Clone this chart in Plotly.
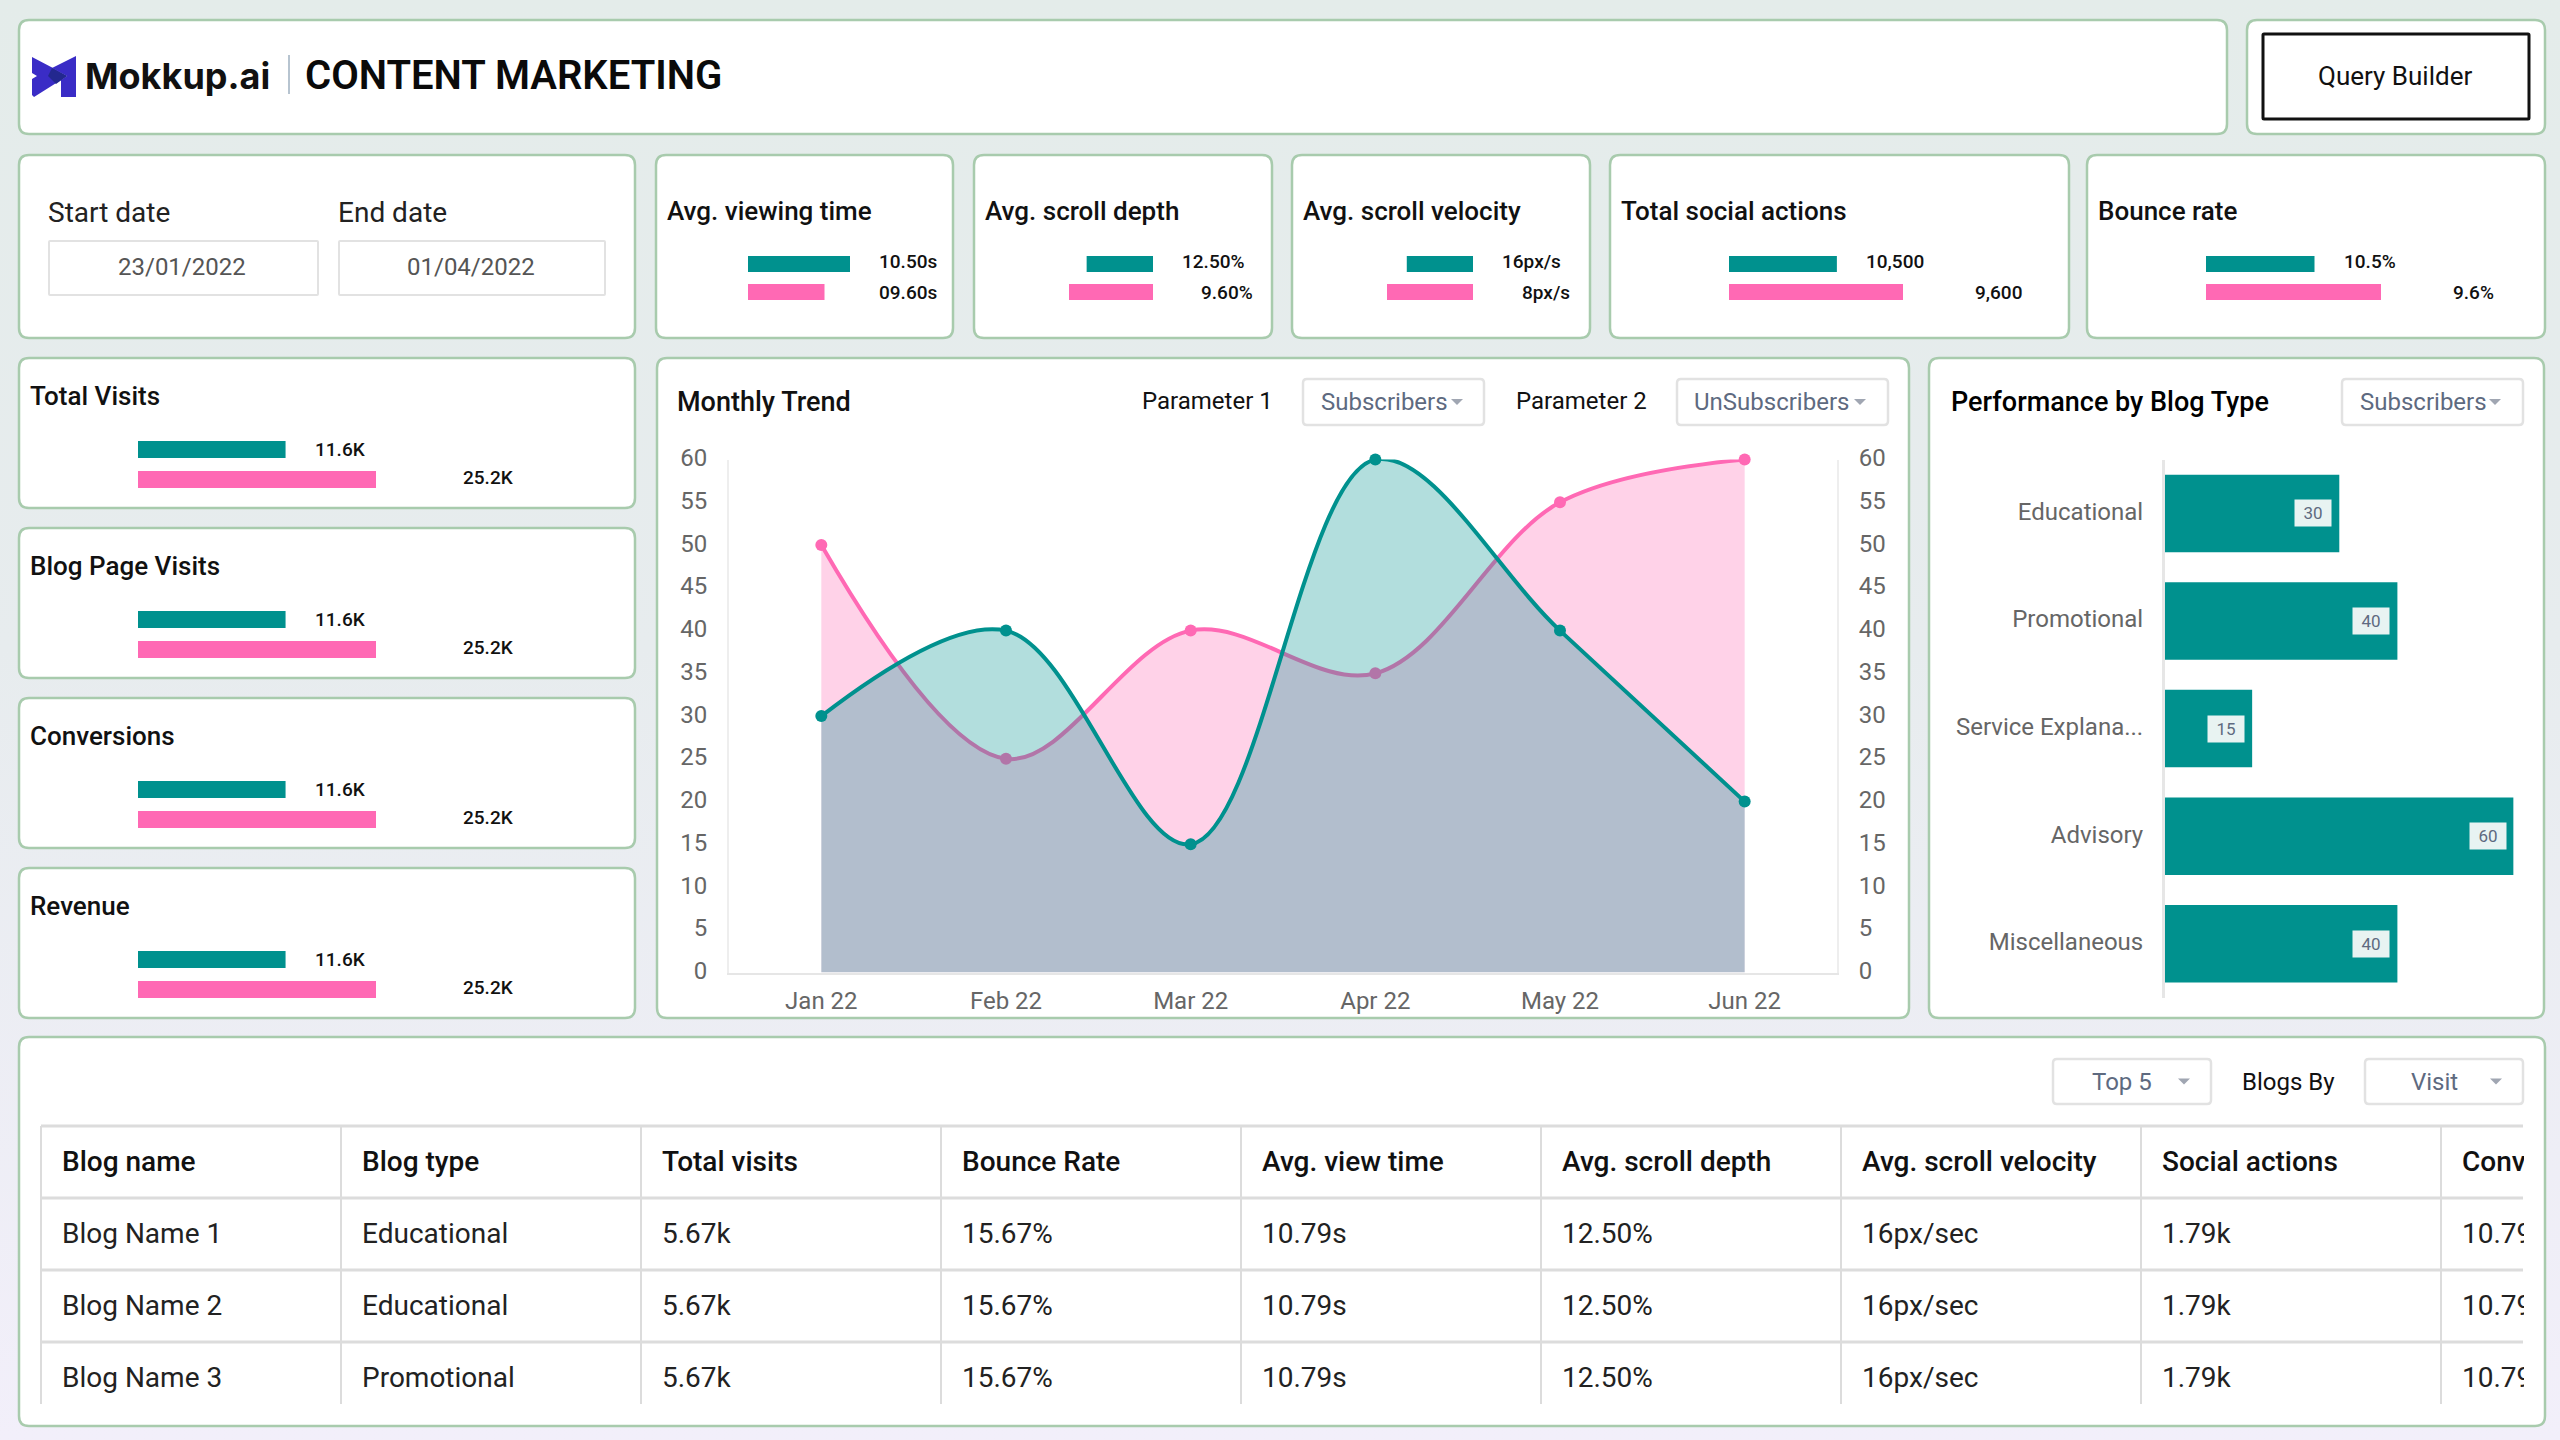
import plotly.graph_objects as go

W, H = 2560, 1440
TEAL = "#00918e"
PINK = "#ff69b4"
BORDER = "#a8cbad"
GREY_LINE = "#dcdcdc"
DROP_TEXT = "#5e6a80"
FONT = "Roboto"

# monthly trend
months = ["Jan 22", "Feb 22", "Mar 22", "Apr 22", "May 22", "Jun 22"]
subscribers = [50, 25, 40, 35, 55, 60]
unsubscribers = [30, 40, 15, 60, 40, 20]

# performance by blog type
blog_categories = ["Educational", "Promotional", "Service Explana...", "Advisory", "Miscellaneous"]
blog_values = [30, 40, 15, 60, 40]

# top KPI cards, bar lengths (longest bar = 100)
kpi_titles = ["Avg. viewing time", "Avg. scroll depth", "Avg. scroll velocity", "Total social actions", "Bounce rate"]
kpi_teal_labels = ["10.50s", "12.50%", "16px/s", "10,500", "10.5%"]
kpi_pink_labels = ["09.60s", "9.60%", "8px/s", "9,600", "9.6%"]
kpi_teal_bars = [100, 79, 77, 62, 62]
kpi_pink_bars = [75, 100, 100, 100, 100]

# left column cards
side_titles = ["Total Visits", "Blog Page Visits", "Conversions", "Revenue"]
side_teal_labels = ["11.6K", "11.6K", "11.6K", "11.6K"]
side_pink_labels = ["25.2K", "25.2K", "25.2K", "25.2K"]
side_teal_bars = [62, 62, 62, 62]
side_pink_bars = [100, 100, 100, 100]

# bottom table
table_headers = ["Blog name", "Blog type", "Total visits", "Bounce Rate", "Avg. view time",
                 "Avg. scroll depth", "Avg. scroll velocity", "Social actions", "Conversions"]
blog_names = ["Blog Name 1", "Blog Name 2", "Blog Name 3"]
blog_types = ["Educational", "Educational", "Promotional"]
total_visits = ["5.67k", "5.67k", "5.67k"]
bounce_rates = ["15.67%", "15.67%", "15.67%"]
view_times = ["10.79s", "10.79s", "10.79s"]
scroll_depths = ["12.50%", "12.50%", "12.50%"]
scroll_velocities = ["16px/sec", "16px/sec", "16px/sec"]
social_actions = ["1.79k", "1.79k", "1.79k"]
conversions = ["10.79k", "10.79k", "10.79k"]


def px(x):
    return x / W


def py(y):
    return 1 - y / H


shapes = []
annotations = []


def box(x0, y0, x1, y1, line=BORDER, width=2.5, r=10, fill="white"):
    # rounded rectangle, paper coordinates
    X0, X1, Y0, Y1 = px(x0), px(x1), py(y0), py(y1)
    rx, ry = r / W, r / H
    path = (f"M {X0 + rx} {Y0} L {X1 - rx} {Y0} Q {X1} {Y0} {X1} {Y0 - ry} "
            f"L {X1} {Y1 + ry} Q {X1} {Y1} {X1 - rx} {Y1} "
            f"L {X0 + rx} {Y1} Q {X0} {Y1} {X0} {Y1 + ry} "
            f"L {X0} {Y0 - ry} Q {X0} {Y0} {X0 + rx} {Y0} Z")
    shapes.append(dict(type="path", xref="paper", yref="paper", path=path, fillcolor=fill,
                       line=dict(color=line, width=width), layer="below"))


def poly(points, color):
    d = "M " + " L ".join(f"{px(x)} {py(y)}" for x, y in points) + " Z"
    shapes.append(dict(type="path", xref="paper", yref="paper", path=d, fillcolor=color,
                       line=dict(width=0), layer="below"))


def line(x0, y0, x1, y1, color=GREY_LINE, width=2):
    shapes.append(dict(type="line", xref="paper", yref="paper", x0=px(x0), x1=px(x1), y0=py(y0), y1=py(y1),
                       line=dict(color=color, width=width), layer="below"))


def label(x, y, text, size=25, color="#111111", weight=400, anchor="left", family=FONT, **kw):
    # small nudge: annotation boxes carry a little padding
    annotations.append(dict(xref="paper", yref="paper", x=px(x - 1.5), y=py(y - 0.7), text=text, showarrow=False,
                            xanchor=anchor, yanchor="middle", font=dict(family=family, size=size, color=color, weight=weight), **kw))


def dropdown(x0, y0, x1, y1, text, text_x, arrow_x):
    box(x0, y0, x1, y1, line="#e2e2e2", width=2.5, r=4)
    cy = (y0 + y1) / 2
    label(text_x, cy + 1, text, size=24, color=DROP_TEXT)
    poly([(arrow_x - 6, cy - 3), (arrow_x + 6, cy - 3), (arrow_x, cy + 3)], "#a0a6b2")


fig = go.Figure()
axis_no = {"n": 3}


def mini_bars(x0, x1, y_mid, half, teal, pink, flip=False):
    # two bars on their own hidden axes
    axis_no["n"] += 1
    n = axis_no["n"]
    fig.add_bar(x=[teal, pink], y=["a", "b"], orientation="h", marker=dict(color=[TEAL, PINK], line=dict(width=0)),
                xaxis=f"x{n}", yaxis=f"y{n}", showlegend=False, hoverinfo="skip")
    fig.layout[f"xaxis{n}"] = dict(domain=[px(x0), px(x1)], range=[100, 0] if flip else [0, 100], visible=False,
                                   anchor=f"y{n}", fixedrange=True)
    fig.layout[f"yaxis{n}"] = dict(domain=[py(y_mid + half), py(y_mid - half)], autorange="reversed", visible=False,
                                   anchor=f"x{n}", type="category", fixedrange=True)


# header row
box(19, 20, 2227, 134)
poly([(32, 57), (53, 68), (67, 76), (61, 80), (34, 97), (32, 95), (32, 79), (37, 76), (32, 73)], "#3a2cc6")
poly([(76, 56), (76, 97), (61, 97), (61, 80), (67, 76), (52, 68)], "#3a2cc6")
poly([(52, 68), (67, 76), (56, 84), (48, 76)], "#23288f")
label(84, 77, "Mokkup.ai", size=36, color="#111111", weight=700, family="Inter")
line(289, 55, 289, 94, color="#9fb0c0", width=1.5)
label(304, 76, "CONTENT MARKETING", size=40, color="#0a0a0a", weight=600)
box(2247, 20, 2545, 134)
box(2263, 34, 2529, 119, line="#111111", width=3, r=1)
label(2396, 77, "Query Builder", size=26, anchor="center")

# date card
box(19, 155, 635, 338)
label(47, 213, "Start date", size=28, color="#222222")
label(337, 213, "End date", size=28, color="#222222")
box(49, 241, 318, 295, line="#e2e2e2", width=2, r=1)
box(339, 241, 605, 295, line="#e2e2e2", width=2, r=1)
label(183, 268, "23/01/2022", size=24, color="#555555", anchor="center")
label(472, 268, "01/04/2022", size=24, color="#555555", anchor="center")

# KPI cards: card x0, x1, bar start, bar end, teal label x, pink label x
kpi_boxes = [
    (656, 953, 748, 850, 878, 878, False),
    (974, 1272, 1069, 1153, 1181, 1200, True),
    (1292, 1590, 1387, 1473, 1501, 1521, True),
    (1610, 2069, 1729, 1903, 1865, 1974, False),
    (2087, 2545, 2206, 2381, 2343, 2452, False),
]
for i, (cx0, cx1, bx0, bx1, lx_a, lx_b, flip) in enumerate(kpi_boxes):
    box(cx0, 155, cx1, 338)
    label(cx0 + 10, 212, kpi_titles[i], size=26, weight=500)
    mini_bars(bx0, bx1, 278, 28, kpi_teal_bars[i], kpi_pink_bars[i], flip)
    label(lx_a, 262, kpi_teal_labels[i], size=19, weight=500)
    label(lx_b, 293, kpi_pink_labels[i], size=19, weight=500)

# left column cards
for i, top in enumerate([358, 528, 698, 868]):
    box(19, top, 635, top + 150)
    label(29, top + 39, side_titles[i], size=26, weight=500)
    mini_bars(138, 376, top + 106.5, 30, side_teal_bars[i], side_pink_bars[i])
    label(314, top + 92, side_teal_labels[i], size=19, weight=500)
    label(462, top + 120, side_pink_labels[i], size=19, weight=500)

# monthly trend card
box(657, 358, 1909, 1018)
label(676, 403, "Monthly Trend", size=27, weight=500)
label(1141, 402, "Parameter 1", size=24)
dropdown(1303, 379, 1484, 425, "Subscribers", 1320, 1457)
label(1515, 402, "Parameter 2", size=24)
dropdown(1677, 379, 1888, 425, "UnSubscribers", 1693, 1860)

fig.add_scatter(x=months, y=subscribers, mode="lines+markers", line=dict(color=PINK, width=4, shape="spline", smoothing=1),
                marker=dict(color=PINK, size=12), fill="tozeroy", fillcolor="rgba(255,105,180,0.3)",
                cliponaxis=False, showlegend=False, name="Subscribers", xaxis="x", yaxis="y")
fig.add_scatter(x=months, y=unsubscribers, mode="lines+markers", line=dict(color=TEAL, width=4, shape="spline", smoothing=1),
                marker=dict(color=TEAL, size=12), fill="tozeroy", fillcolor="rgba(0,145,142,0.3)",
                cliponaxis=False, showlegend=False, name="UnSubscribers", xaxis="x", yaxis="y2")

trend_ticks = dict(tickfont=dict(family=FONT, size=24, color="#666666"), ticklabelstandoff=15, ticklabelshift=-2)
fig.update_layout(
    xaxis=dict(domain=[px(729), px(1837)], type="category", range=[-0.5, 5.5], showgrid=False, zeroline=False, showline=True,
               linecolor="#e6e6e6", linewidth=2, anchor="y", ticks="", ticklabelstandoff=6,
               tickfont=dict(family=FONT, size=24, color="#666666")),
    yaxis=dict(domain=[py(972.6), py(459.6)], range=[0, 60], dtick=5, showgrid=False, zeroline=False, showline=True,
               linecolor="#eeeeee", linewidth=2, anchor="x", ticks="", **trend_ticks),
    yaxis2=dict(range=[0, 60], dtick=5, showgrid=False, zeroline=False, showline=True, linecolor="#eeeeee", linewidth=2,
                overlaying="y", side="right", anchor="x", ticks="", **trend_ticks),
)

# performance by blog type card
box(1929, 358, 2544, 1018)
label(1950, 403, "Performance by Blog Type", size=27, weight=500, color="#000000")
dropdown(2342, 379, 2523, 425, "Subscribers", 2359, 2495)

fig.add_bar(x=blog_values, y=blog_categories, orientation="h", marker=dict(color=TEAL, line=dict(width=0)),
            width=0.72, xaxis="x3", yaxis="y3", showlegend=False, name="Subscribers")
fig.update_layout(
    xaxis3=dict(domain=[px(2165), px(2513.6)], range=[0, 60], visible=False, anchor="y3"),
    yaxis3=dict(domain=[py(997.6), py(459.6)], type="category", autorange="reversed", showline=True, linecolor="#e6e6e6",
                linewidth=3, showgrid=False, zeroline=False, anchor="x3", ticks="", ticklabelstandoff=14, ticklabelshift=2,
                tickfont=dict(family=FONT, size=24, color="#666666")),
)
for cat, val in zip(blog_categories, blog_values):
    annotations.append(dict(xref="x3", yref="y3", x=val, y=cat, text=str(val), showarrow=False, xanchor="right", xshift=-7,
                            width=34, height=24, bgcolor="#e8f3f2", align="center", valign="middle",
                            font=dict(family=FONT, size=17, color=DROP_TEXT)))

# table card
box(19, 1037, 2545, 1426)
dropdown(2053, 1059, 2211, 1104, "Top 5", 2091, 2184)
label(2241, 1083, "Blogs By", size=24)
dropdown(2365, 1059, 2523, 1104, "Visit", 2410, 2496)

col_edges = [41, 341, 641, 941, 1241, 1541, 1841, 2141, 2441]
row_lines = [1126, 1198, 1270, 1342]
row_mids = [1162, 1234, 1306, 1378]
table_columns = [blog_names, blog_types, total_visits, bounce_rates, view_times, scroll_depths,
                 scroll_velocities, social_actions, conversions]
for y in row_lines:
    line(41, y, 2523, y, width=3)
for x in col_edges:
    line(x, 1126, x, 1404, width=2)
for x, head, values in zip(col_edges, table_headers, table_columns):
    clip = dict(width=62, align="left") if x == col_edges[-1] else {}
    label(x + 20, row_mids[0], head, size=28, weight=500, color="#111111", **clip)
    for y, val in zip(row_mids[1:], values):
        label(x + 20, y, val, size=28, color="#222222", **clip)

fig.update_layout(
    template="none",
    width=W, height=H, margin=dict(l=0, r=0, t=0, b=0, pad=0), autosize=False,
    paper_bgcolor="rgba(0,0,0,0)", plot_bgcolor="rgba(0,0,0,0)",
    font=dict(family=FONT), bargap=0.43, shapes=shapes, annotations=annotations,
)

page_css = ("document.body.style.margin='0';document.body.style.overflow='hidden';"
            "document.body.style.background='linear-gradient(180deg,#e4ecea 0%,#e7ecee 45%,#f2effa 100%)';")
fig.write_html("out.html", post_script=page_css, config={"displayModeBar": False})
